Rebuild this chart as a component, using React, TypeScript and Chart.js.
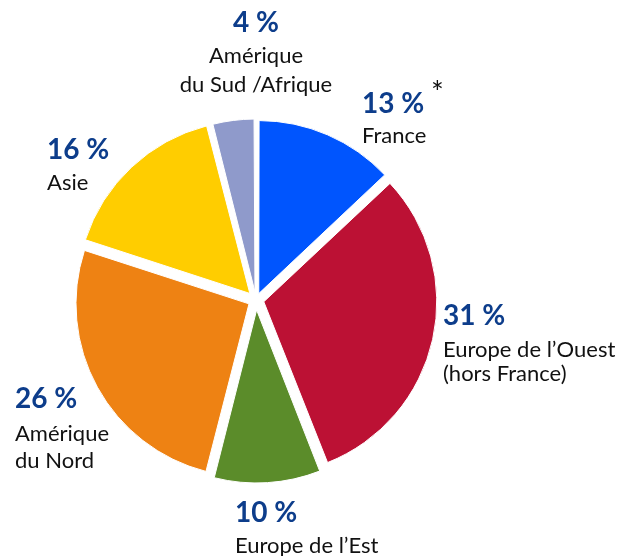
import React, { useEffect, useRef } from "react";
import { Chart, registerables } from "chart.js";

Chart.register(...registerables);

// ---- Data ----
const regions = [
  "France",
  "Europe de l’Ouest (hors France)",
  "Europe de l’Est",
  "Amérique du Nord",
  "Asie",
  "Amérique du Sud /Afrique",
];
const shares = [13, 31, 10, 26, 16, 4];
const percentLabels = ["13 %", "31 %", "10 %", "26 %", "16 %", "4 %"];
const labelLines = [
  ["France"],
  ["Europe de l’Ouest", "(hors France)"],
  ["Europe de l’Est"],
  ["Amérique", "du Nord"],
  ["Asie"],
  ["Amérique", "du Sud /Afrique"],
];
const sliceColors = ["#0055fe", "#bc1134", "#5b8c2a", "#ee8213", "#ffcd00", "#8f9acb"];

// ---- Style / layout ----
const PCT_COLOR = "#0d3d8b";
const TEXT_COLOR = "#111111";
const FONT = "Lato, 'Open Sans', sans-serif";
const EXPLODE_PX = [7, 8, 10, 8, 9, 8]; // px each slice is pulled out
const RADIUS = 173;

// label layout relative to pie centre: [dx, dy(percent baseline), align, line offsets]
const labelLayout: [number, number, CanvasTextAlign, number[]][] = [
  [106, -187, "left", [30]],
  [187, 25, "left", [32, 56]],
  [-21, 222, "left", [31]],
  [-241, 108, "left", [33, 60]],
  [-209, -141, "left", [31]],
  [0, -268, "center", [31, 60]],
];

// Chart.js translates an arc by offset/4 along its mid-angle
const arcOffsets = EXPLODE_PX.map((d) => d * 4);

// keep every slice at the same drawn radius (Chart.js enlarges narrow exploded arcs)
const radiusFixPlugin = {
  id: "radiusFix",
  beforeDatasetsDraw(chart: any) {
    const meta = chart.getDatasetMeta(0);
    meta.data.forEach((el: any, i: number) => {
      const fix = 1 - Math.sin(Math.min(Math.PI, el.circumference || 0));
      el.outerRadius = RADIUS - (arcOffsets[i] / 4) * fix;
    });
  },
};

const labelsPlugin = {
  id: "sliceLabels",
  afterDraw(chart: any) {
    const meta = chart.getDatasetMeta(0);
    const arc = meta.data[0];
    if (!arc) return;
    const cx = arc.x;
    const cy = arc.y;
    const ctx = chart.ctx as CanvasRenderingContext2D;
    ctx.save();
    ctx.textBaseline = "alphabetic";
    labelLayout.forEach(([dx, dy, align, offs], i) => {
      const x = cx + dx;
      const y = cy + dy;
      ctx.textAlign = align;
      ctx.fillStyle = PCT_COLOR;
      ctx.font = `bold 28px ${FONT}`;
      ctx.fillText(percentLabels[i], x, y);
      ctx.fillStyle = TEXT_COLOR;
      ctx.font = `22px ${FONT}`;
      labelLines[i].forEach((line, j) => ctx.fillText(line, x, y + offs[j]));
      if (i === 0) {
        ctx.textAlign = "left";
        ctx.font = `30px ${FONT}`;
        ctx.fillText("*", x + 69, y - 10);
      }
    });
    ctx.restore();
  },
};

export default function App() {
  const canvasRef = useRef<HTMLCanvasElement | null>(null);

  useEffect(() => {
    const canvas = canvasRef.current;
    if (!canvas) return;
    const chart = new Chart(canvas, {
      type: "pie",
      data: {
        labels: regions,
        datasets: [
          {
            data: shares,
            backgroundColor: sliceColors,
            borderColor: "#ffffff",
            borderWidth: 1,
            offset: arcOffsets,
          } as any,
        ],
      },
      options: {
        responsive: false,
        animation: false,
        radius: RADIUS,
        layout: { padding: { left: 0, right: 110, top: 44, bottom: 0 } },
        plugins: {
          legend: { display: false },
          tooltip: { enabled: false },
        },
      } as any,
      plugins: [radiusFixPlugin, labelsPlugin],
    });
    return () => chart.destroy();
  }, []);

  return (
    <div style={{ position: "absolute", left: 0, top: 0, width: 622, height: 556, background: "#ffffff" }}>
      <canvas ref={canvasRef} width={622} height={556} style={{ display: "block" }} />
    </div>
  );
}
